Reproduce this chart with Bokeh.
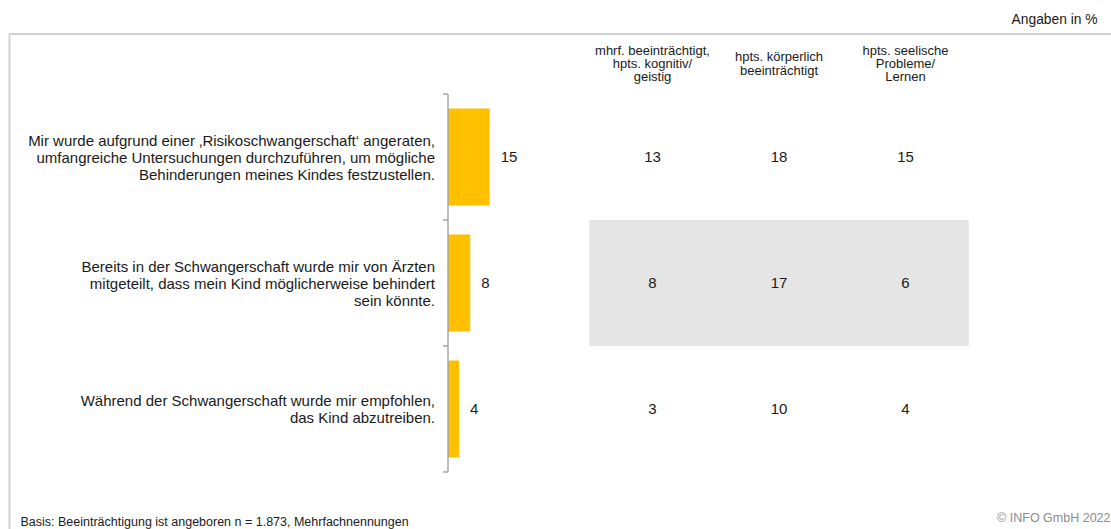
from bokeh.plotting import figure
from bokeh.models import Range1d
from bokeh.core.properties import value
from bokeh.embed import file_html
from bokeh.resources import INLINE

# ---- data ----
categories = [
    "Mir wurde aufgrund einer \u201aRisikoschwangerschaft\u2018 angeraten,\numfangreiche Untersuchungen durchzuf\u00fchren, um m\u00f6gliche\nBehinderungen meines Kindes festzustellen.",
    "Bereits in der Schwangerschaft wurde mir von \u00c4rzten\nmitgeteilt, dass mein Kind m\u00f6glicherweise behindert\nsein k\u00f6nnte.",
    "W\u00e4hrend der Schwangerschaft wurde mir empfohlen,\ndas Kind abzutreiben.",
]
total_values = [15, 8, 4]
group_headers = [
    "mhrf. beeintr\u00e4chtigt,\nhpts. kognitiv/\ngeistig",
    "hpts. k\u00f6rperlich\nbeeintr\u00e4chtigt",
    "hpts. seelische\nProbleme/\nLernen",
]
group_mentally = [13, 8, 3]
group_physically = [18, 17, 10]
group_psychological = [15, 6, 4]
highlight_row = 1
unit_note = "Angaben in %"
base_note = "Basis: Beeintr\u00e4chtigung ist angeboren n = 1.873, Mehrfachnennungen"
copyright_note = "\u00a9 INFO GmbH 2022"

# ---- layout ----
W, H = 1111, 529
x0px, pxu = 447.5, 2.78          # bar zero position and px per percent
yc0px, catpx = 156.5, 126.0      # first category centre and category pitch
col0px, colpx = 652.0, 126.5     # first table column centre and pitch

x_rng = Range1d(-x0px / pxu, (W - x0px) / pxu)
y_rng = Range1d((H - yc0px) / catpx, -yc0px / catpx)


def px_x(px):
    return x_rng.start + px / pxu


def px_y(py):
    return y_rng.end + py / catpx


FONT = value("Liberation Sans")
TXT = "#1a1a1a"

p = figure(width=W, height=H, x_range=x_rng, y_range=y_rng,
           output_backend="svg", toolbar_location=None,
           x_axis_location=None, y_axis_location=None, min_border=0)
p.xgrid.visible = False
p.ygrid.visible = False
p.outline_line_color = None
p.background_fill_color = "white"
p.border_fill_color = "white"
p.extra_x_ranges = {"table": Range1d(-col0px / colpx, (W - col0px) / colpx)}

idx = list(range(len(categories)))
cols = list(range(len(group_headers)))
table = [group_mentally, group_physically, group_psychological]

# frame lines
p.segment(x0=[px_x(9)], x1=[px_x(W)], y0=[px_y(33.5)], y1=[px_y(33.5)],
          line_color="#d2d2d2", line_width=2)
p.segment(x0=[px_x(9)], x1=[px_x(9)], y0=[px_y(33.5)], y1=[y_rng.start],
          line_color="#d2d2d2", line_width=2)

# highlight row in table
p.quad(left=[cols[0] - 0.5], right=[cols[-1] + 0.5],
       bottom=[highlight_row + 0.5], top=[highlight_row - 0.5],
       x_range_name="table", fill_color="#e5e5e5", line_color=None)

# bars
p.hbar(y=idx, left=0, right=total_values, height=0.77,
       fill_color="#FFC000", line_color=None)

# category axis line and ticks
bounds = [i - 0.5 for i in idx] + [idx[-1] + 0.5]
p.segment(x0=[0], x1=[0], y0=[bounds[0]], y1=[bounds[-1]],
          line_color="#a6a6a6", line_width=1.5)
p.segment(x0=[-5 / pxu] * len(bounds), x1=[0] * len(bounds), y0=bounds, y1=bounds,
          line_color="#a6a6a6", line_width=1.5)

# bar value labels
p.text(x=total_values, y=idx, text=[str(v) for v in total_values], x_offset=11,
       text_align="left", text_baseline="middle", text_font=FONT,
       text_font_size="15px", text_color=TXT)

# category labels
p.text(x=[0] * len(idx), y=idx, text=categories, x_offset=-13,
       text_align="right", text_baseline="middle", text_font=FONT,
       text_font_size="15px", text_line_height=1.0, text_color=TXT)

# table headers
p.text(x=cols, y=[px_y(63)] * len(cols), text=group_headers, x_range_name="table",
       text_align="center", text_baseline="middle", text_font=FONT,
       text_font_size="13px", text_line_height=0.87, text_color=TXT)

# table values
for c, series in zip(cols, table):
    p.text(x=[c] * len(idx), y=idx, text=[str(v) for v in series],
           x_range_name="table", text_align="center", text_baseline="middle",
           text_font=FONT, text_font_size="15px", text_color=TXT)

# notes
p.text(x=[px_x(1097)], y=[px_y(19)], text=[unit_note], text_align="right",
       text_baseline="middle", text_font=FONT, text_font_size="13.8px", text_color=TXT)
p.text(x=[px_x(20)], y=[px_y(521)], text=[base_note], text_align="left",
       text_baseline="middle", text_font=FONT, text_font_size="12.5px", text_color=TXT)
p.text(x=[px_x(1110)], y=[px_y(517)], text=[copyright_note], text_align="right",
       text_baseline="middle", text_font=FONT, text_font_size="12.5px",
       text_color="#8c8c8c")

open("out.html", "w").write(file_html(p, INLINE))
